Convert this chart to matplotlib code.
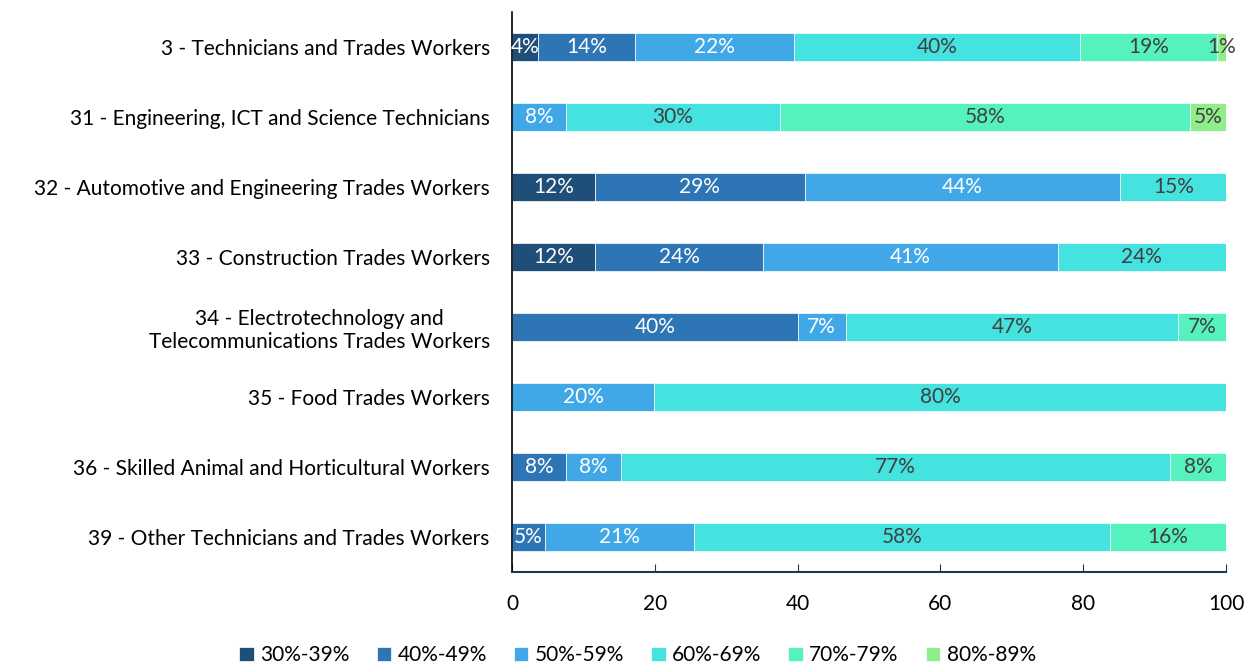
import matplotlib
matplotlib.use("Agg")
import matplotlib.pyplot as plt
import numpy as np

plt.rcParams['font.family'] = ['Lato', 'DejaVu Sans']

occupations = [
    "3 - Technicians and Trades Workers",
    "31 - Engineering, ICT and Science Technicians",
    "32 - Automotive and Engineering Trades Workers",
    "33 - Construction Trades Workers",
    "34 - Electrotechnology and\nTelecommunications Trades Workers",
    "35 - Food Trades Workers",
    "36 - Skilled Animal and Horticultural Workers",
    "39 - Other Technicians and Trades Workers",
]
bands = ["30%-39%", "40%-49%", "50%-59%", "60%-69%", "70%-79%", "80%-89%"]

# share of each occupation in each band (rows follow occupations)
band_30 = [3.6, 0, 11.6, 11.6, 0, 0, 0, 0]
band_40 = [13.6, 0, 29.4, 23.6, 40.0, 0, 7.6, 4.6]
band_50 = [22.3, 7.6, 44.2, 41.2, 6.7, 19.9, 7.6, 20.9]
band_60 = [40.1, 29.9, 14.8, 23.6, 46.6, 80.1, 77.0, 58.2]
band_70 = [19.1, 57.5, 0, 0, 6.7, 0, 7.8, 16.3]
band_80 = [1.3, 5.0, 0, 0, 0, 0, 0, 0]

colors = ["#1f4e79", "#2e75b6", "#41a8e8", "#45e3df", "#55f2c0", "#90ee8a"]
label_colors = ["white", "white", "white", "#404040", "#404040", "#404040"]

series = [band_30, band_40, band_50, band_60, band_70, band_80]

fig = plt.figure(figsize=(12.55, 6.64), dpi=100)
ax = fig.add_axes([0.408, 0.139, 0.569, 0.843])

y = np.arange(len(occupations))
left = np.zeros(len(occupations))
for name, vals, col, lcol in zip(bands, series, colors, label_colors):
    vals = np.array(vals)
    bars = ax.barh(y, vals, left=left, height=0.4, color=col, label=name,
                   edgecolor="white", linewidth=0.5)
    for b, v, l in zip(bars, vals, left):
        if v > 0:
            ax.text(l + v / 2, b.get_y() + b.get_height() / 2,
                    "%d%%" % round(v), ha="center", va="center",
                    color=lcol, fontsize=15)
    left += vals

ax.set_ylim(len(occupations) - 0.5, -0.5)
ax.set_xlim(0, 100)
ax.set_xticks([0, 20, 40, 60, 80, 100])
ax.set_yticks(y)
ax.set_yticklabels(occupations, fontsize=15, multialignment="center")
ax.tick_params(axis="y", length=0, pad=16)
ax.tick_params(axis="x", direction="in", length=6, color="#1f3a50",
               labelsize=15, pad=16)

for s in ["top", "right"]:
    ax.spines[s].set_visible(False)
ax.spines["left"].set_color("black")
ax.spines["left"].set_linewidth(1.2)
ax.spines["bottom"].set_color("#1f3a50")
ax.spines["bottom"].set_linewidth(1.5)

fig.legend(loc="lower center", ncol=6, frameon=False, fontsize=15,
           bbox_to_anchor=(0.508, -0.03), handlelength=0.7, handleheight=0.7,
           handletextpad=0.3, columnspacing=1.3)

fig.savefig("out.png", dpi=100)
